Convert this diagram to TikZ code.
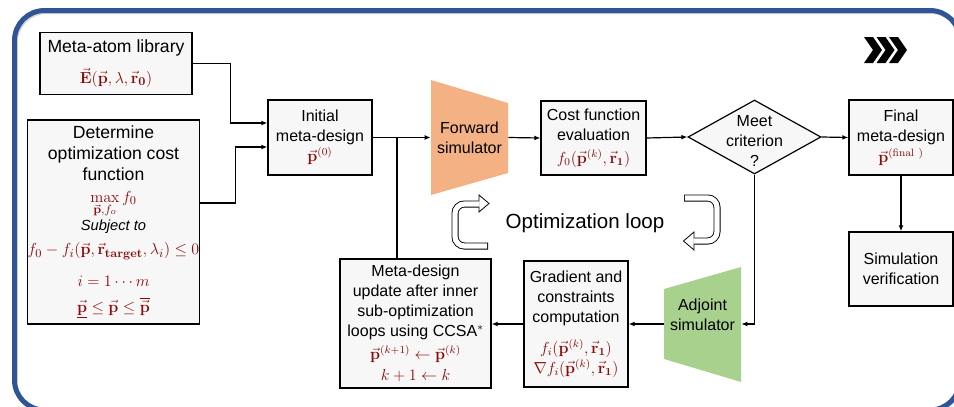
\documentclass[tikz,border=0pt]{standalone}
\usepackage[no-math]{fontspec}
\setmainfont{Liberation Sans}
\usepackage{amsmath}
\usetikzlibrary{arrows.meta,shapes.geometric}
\definecolor{frameblue}{RGB}{47,85,151}
\definecolor{boxfill}{RGB}{247,247,247}
\definecolor{mathred}{RGB}{140,10,10}
\definecolor{fwdorange}{RGB}{244,177,131}
\definecolor{adjgreen}{RGB}{169,209,142}
\newcommand{\vecp}{\vec{\mathbf{p}}}
\newcommand{\vecr}{\vec{\mathbf{r}}}
\newcommand{\mth}[1]{\textcolor{mathred}{$#1$}}
\begin{document}
\begin{tikzpicture}[x=0.75pt,y=-0.75pt,
  box/.style={draw=black, line width=0.9pt, fill=boxfill, inner sep=0pt,
    align=center, font=\fontsize{12}{15}\selectfont},
  bigbox/.style={box, font=\fontsize{13.2}{16}\selectfont},
  label/.style={inner sep=0pt, align=center, font=\fontsize{12}{15}\selectfont},
  arr/.style={-{Latex[length=4.5pt,width=3.6pt]}, line width=0.9pt},
  link/.style={line width=0.9pt},
  hollowbody/.style={line width=5.25pt, rounded corners=7pt, line cap=butt},
  hollowgap/.style={white, line width=3.9pt, rounded corners=7pt, line cap=butt},
  hollowhead/.style={fill=white, draw=black, line width=0.6pt, line join=miter}]
\useasboundingbox (0,0) rectangle (954,407);

% outer frame
\begin{scope}
  \clip (0,0) rectangle (954,407);
  \draw[black!18, line width=1.5pt, rounded corners=22.5pt] (16.5,13) rectangle (961,412);
  \draw[frameblue, line width=3.75pt, rounded corners=22.5pt] (14.5,10.5) rectangle (960,410);
\end{scope}

% chevrons
\foreach \dx in {0,12.5,25}
  \fill[black] (864+\dx,37) -- (873+\dx,37) -- (882+\dx,50) -- (873+\dx,63) -- (864+\dx,63) -- (873+\dx,50) -- cycle;

% simulators
\fill[fwdorange] (431,80) -- (508,103) -- (508,173) -- (431,195) -- cycle;
\fill[adjgreen] (664,289) -- (741,267) -- (741,382) -- (664,359) -- cycle;

% boxes
\node[bigbox, minimum width=114pt, minimum height=46.5pt] (lib) at (116,63.5)
  {Meta-atom library\\[7pt]\mth{\vec{\mathbf{E}}(\vecp,\lambda,\vecr_{\mathbf{0}})}};
\node[bigbox, minimum width=128.25pt, minimum height=153pt] (det) at (113.5,222)
  {Determine\\optimization cost\\function\\[0pt]
   \mth{\max\limits_{\vecp,f_o} f_0}\\[1pt]
   {\fontsize{11}{13}\selectfont\itshape Subject to}\\[2pt]
   \mth{f_0-f_i(\vecp,\vecr_{\mathbf{target}},\lambda_i)\le 0}\\[8pt]
   \mth{i=1\cdots m}\\[3pt]
   \mth{\underline{\vecp}\le\vecp\le\overline{\vecp}}};
\node[box, minimum width=78pt, minimum height=56.25pt] (init) at (320,137.5)
  {Initial\\meta-design\\\mth{\vecp^{(0)}}};
\node[label, minimum width=57.75pt] (fwd) at (469.5,137.5) {Forward\\simulator};
\node[box, minimum width=78.75pt, minimum height=55.5pt] (cost) at (593.5,138)
  {Cost function\\evaluation\\[2pt]\mth{f_0(\vecp^{(k)},\vecr_{\mathbf{1}})}};
\node[diamond, draw=black, line width=0.9pt, fill=boxfill, inner sep=0pt,
  minimum width=99.75pt, minimum height=55.5pt] (dia) at (754.5,137) {};
\node[label] (diatxt) at (754.5,141) {Meet\\criterion\\?};
\node[box, minimum width=78pt, minimum height=56.25pt] (fin) at (901,137.5)
  {Final\\meta-design\\[1pt]\mth{\vecp^{(\mathrm{final}\ )}}};
\node[box, minimum width=78pt, minimum height=55.5pt] (sim) at (901,269)
  {Simulation\\verification};
\node[label, minimum width=57.75pt] (adj) at (702.5,314.5) {Adjoint\\simulator};
\node[box, minimum width=78pt, minimum height=94.5pt] (grad) at (576,324)
  {Gradient and\\constraints\\computation\\[8pt]
   \mth{f_i(\vecp^{(k)},\vecr_{\mathbf{1}})}\\
   \mth{\nabla f_i(\vecp^{(k)},\vecr_{\mathbf{1}})}};
\node[box, minimum width=113.25pt, minimum height=96.75pt] (upd) at (415.5,323.5)
  {Meta-design\\update after inner\\sub-optimization\\loops using CCSA$^{*}$\\[2pt]
   \mth{\vecp^{(k+1)}\leftarrow\vecp^{(k)}}\\[1pt]
   \mth{k+1\leftarrow k}};
\node[font=\fontsize{15.4}{18}\selectfont, inner sep=0pt] (loop) at (585,223) {Optimization loop};

% connectors
\draw[arr] (lib.east) -- ++(38,0) |- ([yshift=10.875pt]init.west);
\draw[arr] ([yshift=14.25pt]det.east) -- ++(36,0) |- ([yshift=-7.125pt]init.west);
\draw[arr] (init.east) -- (fwd.west);
\coordinate (jn) at (397,137.5);
\draw[link] (jn |- upd.north) -- (jn);
\draw[arr] (fwd.east) -- (cost.west);
\draw[arr] (cost.east) -- (dia.west);
\draw[arr] (dia.east) -- (fin.west);
\draw[arr] (fin.south) -- (sim.north);
\draw[arr] (dia.south) |- ([yshift=-7.125pt]adj.east);
\draw[arr] ([yshift=-7.125pt]adj.west) -- (grad.east);
\draw[arr] (grad.west) -- (upd.east |- grad.west);

% hollow loop arrows
\draw[hollowbody] (488,246) -- (455,246) -- (455,204) -- (479,204);
\draw[hollowhead] (479,195) -- (489,203.5) -- (479,212) -- cycle;
\draw[hollowgap] (487.2,246) -- (455,246) -- (455,204) -- (479.6,204);

\draw[hollowbody] (684,198) -- (717,198) -- (717,241) -- (694,241);
\draw[hollowhead] (694,232) -- (683.5,241) -- (694,250) -- cycle;
\draw[hollowgap] (684.8,198) -- (717,198) -- (717,241) -- (693.4,241);
\end{tikzpicture}
\end{document}
